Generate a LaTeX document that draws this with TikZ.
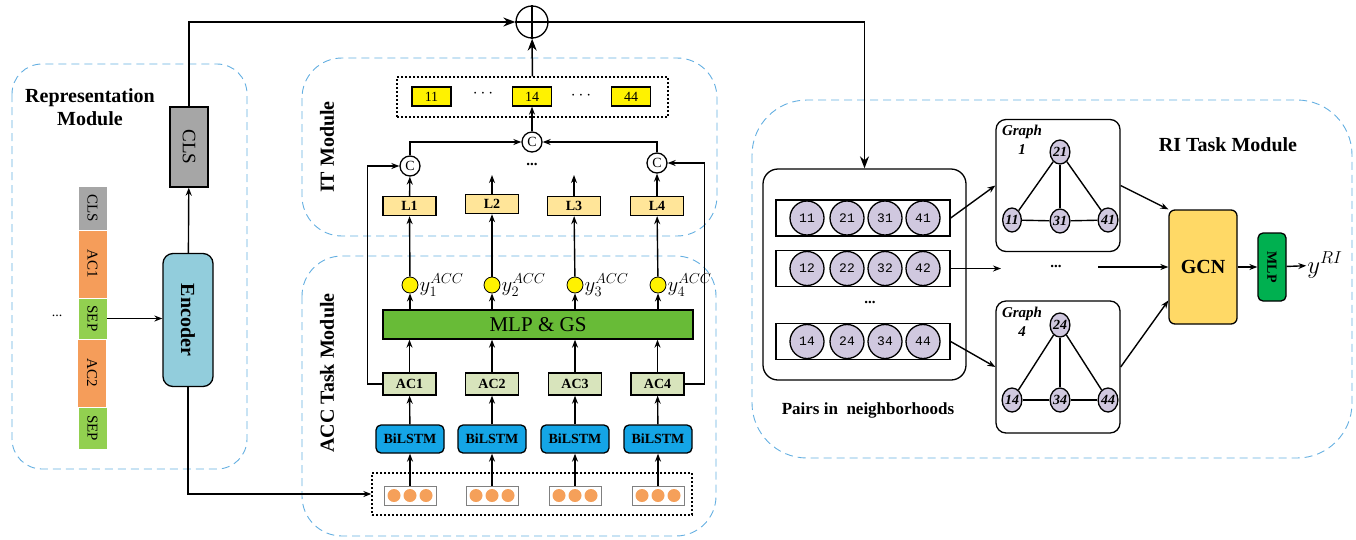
\documentclass[tikz,border=0pt]{standalone}
\usepackage{fontspec}
\setmainfont{Liberation Serif}
\newfontfamily\pairfont{Liberation Mono}
\usepackage{graphicx}
\usepackage{tikz}
\usetikzlibrary{arrows.meta,shapes.geometric}
\definecolor{modblue}{RGB}{100,175,225}
\definecolor{clsgray}{RGB}{166,166,166}
\definecolor{acorange}{RGB}{245,157,90}
\definecolor{sepgreen}{RGB}{146,208,80}
\definecolor{encblue}{RGB}{146,205,220}
\definecolor{lyellow}{RGB}{255,229,153}
\definecolor{acgreen}{RGB}{216,228,188}
\definecolor{lstmblue}{RGB}{20,165,230}
\definecolor{mlpgreen}{RGB}{104,187,55}
\definecolor{dotorange}{RGB}{245,160,90}
\definecolor{pairpurple}{RGB}{208,200,223}
\definecolor{gcnyellow}{RGB}{255,217,102}
\definecolor{rigreen}{RGB}{0,176,80}
\newcommand{\sz}[1]{\fontsize{#1}{#1}\selectfont}
\newcommand{\vtext}[1]{\rotatebox[origin=c]{-90}{#1}}
\tikzstyle{module}=[draw=modblue, line width=0.9pt, dash pattern=on 8pt off 5pt]
\tikzstyle{arr}=[-{Stealth[length=8pt,width=6pt]}, line width=1.4pt]
\tikzstyle{bigarr}=[-{Stealth[length=12pt,width=9pt]}, line width=1.5pt]
\tikzstyle{blk}=[draw, line width=1.3pt, inner sep=0pt]
\tikzstyle{token}=[draw=white, line width=0.5pt, inner sep=0pt, minimum width=29pt, font=\sz{15}]
\tikzstyle{title}=[font=\fontsize{20}{23}\selectfont\bfseries, align=center]
\tikzstyle{ybox}=[blk, fill=yellow, minimum width=39pt, minimum height=19pt, font=\sz{14}]
\tikzstyle{cnode}=[blk, circle, fill=white, minimum size=20pt, font=\sz{14}]
\tikzstyle{lbox}=[blk, fill=lyellow, minimum width=53pt, minimum height=19pt, font=\sz{14}\bfseries]
\tikzstyle{ycirc}=[blk, line width=0.8pt, circle, fill=yellow, minimum size=16pt]
\tikzstyle{ylab}=[font=\sz{20}, inner sep=1pt]
\tikzstyle{acbox}=[blk, fill=acgreen, minimum width=53pt, minimum height=22pt, font=\sz{14}\bfseries]
\tikzstyle{lstm}=[blk, fill=lstmblue, rounded corners=5pt, minimum width=68pt, minimum height=28pt, font=\sz{14}\bfseries]
\tikzstyle{embbox}=[draw=gray, line width=0.8pt, minimum width=52pt, minimum height=19pt]
\tikzstyle{dotted box}=[draw, line width=1.3pt, dash pattern=on 2pt off 2pt]
\tikzstyle{rowbox}=[blk, minimum width=174pt, minimum height=36pt]
\tikzstyle{pair}=[blk, circle, fill=pairpurple, minimum size=34pt, font=\pairfont\sz{13}]
\tikzstyle{graphbox}=[blk, rounded corners=10pt, minimum width=124pt, minimum height=132pt]
\tikzstyle{gnode}=[blk, ellipse, fill=pairpurple, minimum width=17pt, minimum height=24pt, font=\sz{14}\bfseries\itshape]
\tikzstyle{glab}=[font=\fontsize{15}{19}\selectfont\bfseries\itshape, align=center]
\tikzstyle{edge}=[line width=1.4pt]
\tikzstyle{bigdots}=[font=\sz{15}\bfseries]

\begin{document}
\begin{tikzpicture}[x=1pt,y=-1pt]
\useasboundingbox (0,0) rectangle (1356,539);
\draw[module, rounded corners=30pt] (12,64) rectangle (247,469);
\draw[module, rounded corners=40pt] (302,58) rectangle (717,236);
\draw[module, rounded corners=40pt] (302,256) rectangle (716,536);
\draw[module, rounded corners=55pt] (752,100) rectangle (1352,458);

\node[title] (reptitle) at (90,107) {Representation\\Module};
\node[blk, fill=clsgray, minimum width=38pt, minimum height=80pt, font=\sz{19}] (cls) at (189,147) {\vtext{CLS}};
\node[blk, fill=encblue, rounded corners=10pt, minimum width=50pt, minimum height=133pt, font=\sz{20}\bfseries] (enc) at (188,320) {\vtext{Encoder}};
\node[token, fill=clsgray, minimum height=44pt] (tcls) at (92.5,208) {\vtext{CLS}};
\node[token, fill=acorange, minimum height=68pt] (tac1) at (92.5,264) {\vtext{AC1}};
\node[token, fill=sepgreen, minimum height=41pt] (tsep1) at (92.5,318.5) {\vtext{SEP}};
\node[token, fill=acorange, minimum height=68pt] (tac2) at (92,373) {\vtext{AC2}};
\node[token, fill=sepgreen, minimum height=42pt] (tsep2) at (92.5,428) {\vtext{SEP}};
\node[font=\sz{14}] (tdots) at (57,316) {...};
\draw[arr] (tsep1.east) -- (tsep1.east -| enc.west);
\draw[arr] (enc) -- (cls);

\node[blk, circle, minimum size=32pt] (oplus) at (532,22) {};
\draw[line width=1.3pt] (oplus.north) -- (oplus.south) (oplus.west) -- (oplus.east);
\draw[bigarr] (cls) |- (oplus);

\node[title, rotate=90] (ittitle) at (327,147) {IT Module};
\node[dotted box, minimum width=271pt, minimum height=40pt] (itbox) at (532.5,97) {};
\node[ybox] (o11) at (431.5,96.5) {11};
\node[font=\sz{16}] (odots1) at (483,94) {$\cdots$};
\node[ybox] (o14) at (532,96.5) {14};
\node[font=\sz{16}] (odots2) at (581,96) {$\cdots$};
\node[ybox] (o44) at (631,96.5) {44};
\draw[bigarr] (itbox) -- (oplus);
\node[cnode] (cc) at (532,142) {C};
\node[cnode] (cl) at (410,166) {C};
\node[cnode] (cr) at (657,163) {C};
\node[bigdots] (itdots) at (532,164) {...};
\draw[arr] (cc) -- (o14);
\draw[arr] (cl) |- (cc);
\draw[arr] (cr) |- (cc);
\node[lbox] (l1) at (409.5,206) {L1};
\node[lbox] (l2) at (492,204) {L2};
\node[lbox] (l3) at (574,206) {L3};
\node[lbox] (l4) at (657,206) {L4};
\coordinate (l2top) at (492,175);
\coordinate (l3top) at (574,175);
\draw[arr] (l1) -- (cl);
\draw[arr] (l2) -- (l2top);
\draw[arr] (l3) -- (l3top);
\draw[arr] (l4) -- (cr);

\node[title, rotate=90] (acctitle) at (327,373) {ACC Task Module};
\node[ycirc, label={[ylab]right:$y_1^{ACC}$}] (y1) at (410,285) {};
\node[ycirc, label={[ylab]right:$y_2^{ACC}$}] (y2) at (492,285) {};
\node[ycirc, label={[ylab]right:$y_3^{ACC}$}] (y3) at (575,285) {};
\node[ycirc, label={[ylab]right:$y_4^{ACC}$}] (y4) at (658,285) {};
\node[blk, fill=mlpgreen, minimum width=310pt, minimum height=29pt, font=\sz{21}] (mlp) at (538,324.5) {MLP \& GS};
\node[acbox] (ac1) at (409.5,384) {AC1};
\node[acbox] (ac2) at (492,384) {AC2};
\node[acbox] (ac3) at (575,384) {AC3};
\node[acbox] (ac4) at (657.5,384) {AC4};
\node[lstm] (lstm1) at (410,439) {BiLSTM};
\node[lstm] (lstm2) at (492,439) {BiLSTM};
\node[lstm] (lstm3) at (575,439) {BiLSTM};
\node[lstm] (lstm4) at (658,439) {BiLSTM};
\node[dotted box, minimum width=320pt, minimum height=42pt] (inputs) at (532,494) {};
\node[embbox] (in1) at (410,495.5) {};
\node[embbox] (in2) at (492,495.5) {};
\node[embbox] (in3) at (575,495.5) {};
\node[embbox] (in4) at (658,495.5) {};
\fill[dotorange] (in1) ++(-16,0) circle (6.5) ++(16,0) circle (6.5) ++(16,0) circle (6.5);
\fill[dotorange] (in2) ++(-16,0) circle (6.5) ++(16,0) circle (6.5) ++(16,0) circle (6.5);
\fill[dotorange] (in3) ++(-16,0) circle (6.5) ++(16,0) circle (6.5) ++(16,0) circle (6.5);
\fill[dotorange] (in4) ++(-16,0) circle (6.5) ++(16,0) circle (6.5) ++(16,0) circle (6.5);
\draw[arr] (enc) |- (inputs);
\draw[arr] (in1) -- (lstm1);
\draw[arr] (in2) -- (lstm2);
\draw[arr] (in3) -- (lstm3);
\draw[arr] (in4) -- (lstm4);
\draw[arr] (lstm1) -- (ac1);
\draw[arr] (lstm2) -- (ac2);
\draw[arr] (lstm3) -- (ac3);
\draw[arr] (lstm4) -- (ac4);
\draw[arr] (ac1) -- (ac1 |- mlp.south);
\draw[arr] (ac2) -- (ac2 |- mlp.south);
\draw[arr] (ac3) -- (ac3 |- mlp.south);
\draw[arr] (ac4) -- (ac4 |- mlp.south);
\draw[arr] (y1 |- mlp.north) -- (y1);
\draw[arr] (y2 |- mlp.north) -- (y2);
\draw[arr] (y3 |- mlp.north) -- (y3);
\draw[arr] (y4 |- mlp.north) -- (y4);
\draw[arr] (y1) -- (l1);
\draw[arr] (y2) -- (l2);
\draw[arr] (y3) -- (l3);
\draw[arr] (y4) -- (l4);
\draw[arr] (ac1.west) -- ++(-15,0) |- (cl);
\draw[arr] (ac4.east) -- ++(20,0) |- (cr);

\node[title] (rititle) at (1228,145) {RI Task Module};
\node[blk, rounded corners=15pt, minimum width=203pt, minimum height=211pt] (pairs) at (864.5,274.5) {};
\draw[bigarr] (oplus) -| (pairs);
\node[rowbox] (r1) at (863,218) {};
\node[pair] (p11) at (807,218) {11};
\node[pair] (p21) at (847,218) {21};
\node[pair] (p31) at (885,218) {31};
\node[pair] (p41) at (923,218) {41};
\node[rowbox] (r2) at (863,268.5) {};
\node[pair] (p12) at (807,268.5) {12};
\node[pair] (p22) at (847,268.5) {22};
\node[pair] (p32) at (885,268.5) {32};
\node[pair] (p42) at (923,268.5) {42};
\node[bigdots] (pdots) at (870,302) {...};
\node[rowbox] (r3) at (863,341.5) {};
\node[pair] (p14) at (807,341.5) {14};
\node[pair] (p24) at (847,341.5) {24};
\node[pair] (p34) at (885,341.5) {34};
\node[pair] (p44) at (923,341.5) {44};
\node[font=\sz{17}\bfseries] (pairlab) at (868,410) {Pairs in~ neighborhoods};

\node[graphbox] (g1) at (1058,185.5) {};
\node[glab] (g1lab) at (1022,140) {Graph\\1};
\node[gnode] (gn21) at (1060,152) {21};
\node[gnode] (gn11) at (1012,220) {11};
\node[gnode] (gn31) at (1060,221) {31};
\node[gnode] (gn41) at (1108,220) {41};
\draw[edge] (gn21) -- (gn11);
\draw[edge] (gn21) -- (gn31);
\draw[edge] (gn21) -- (gn41);
\draw[edge] (gn11) -- (gn31);
\draw[edge] (gn31) -- (gn41);
\node[graphbox] (g4) at (1058,367) {};
\node[glab] (g4lab) at (1022,322) {Graph\\4};
\node[gnode] (gn24) at (1060,325) {24};
\node[gnode] (gn14) at (1012,400) {14};
\node[gnode] (gn34) at (1060,400) {34};
\node[gnode] (gn44) at (1108,400) {44};
\draw[edge] (gn24) -- (gn14);
\draw[edge] (gn24) -- (gn34);
\draw[edge] (gn24) -- (gn44);
\draw[edge] (gn14) -- (gn34);
\draw[edge] (gn34) -- (gn44);

\coordinate (gdin) at (1001,268.5);
\node[bigdots] (gdots) at (1056,266) {...};
\coordinate (gdout) at (1098,267);
\draw[arr] (r1.east) -- (g1.west);
\draw[arr] (r2.east) -- (gdin);
\draw[arr] (r3.east) -- (g4.west);
\node[blk, fill=gcnyellow, rounded corners=6pt, minimum width=68pt, minimum height=114pt, font=\sz{20}\bfseries] (gcn) at (1203,267) {GCN};
\draw[arr] (gdout) -- (gcn);
\draw[arr] (g1.east) -- (gcn.north west);
\draw[arr] (g4.east) -- (gcn.224);
\node[blk, fill=rigreen, rounded corners=5pt, minimum width=28pt, minimum height=68pt, font=\sz{14}\bfseries] (mlpri) at (1272,267) {\vtext{MLP}};
\node[font=\sz{24}, inner sep=1pt] (yri) at (1325,265) {$y^{RI}$};
\draw[arr] (gcn) -- (mlpri);
\draw[arr] (mlpri) -- (yri);
\end{tikzpicture}
\end{document}
